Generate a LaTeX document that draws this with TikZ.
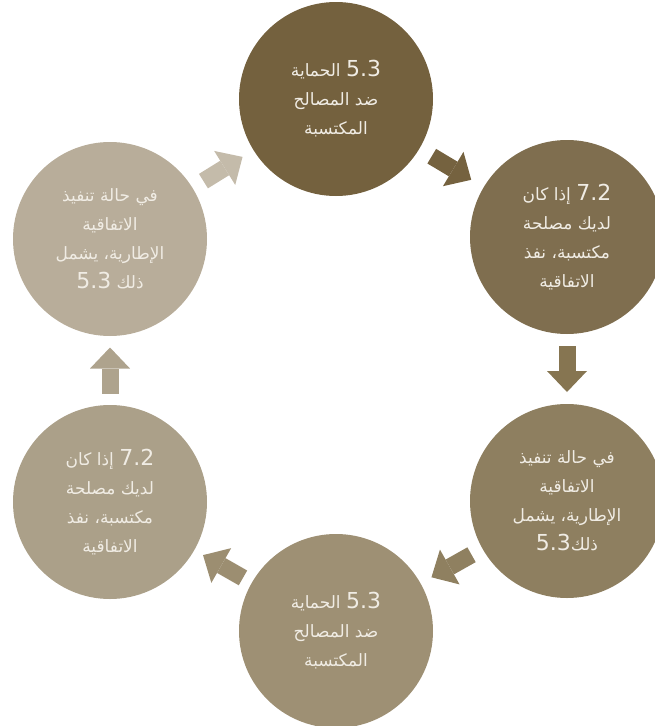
\documentclass[tikz,border=0pt]{standalone}
\usepackage{fontspec}
\TeXXeTstate=1
\newfontfamily\arabicfont[Script=Arabic]{DejaVu Sans}
\newfontfamily\numfont{DejaVu Sans}
\usetikzlibrary{calc,arrows.meta}
\definecolor{cA}{HTML}{74613E}
\definecolor{cB}{HTML}{7F6E4F}
\definecolor{cC}{HTML}{8E7F60}
\definecolor{cD}{HTML}{9E9074}
\definecolor{cE}{HTML}{ABA089}
\definecolor{cF}{HTML}{B8AD9A}
\definecolor{aA}{HTML}{75623F}
\definecolor{aB}{HTML}{867551}
\definecolor{aC}{HTML}{8F8060}
\definecolor{aD}{HTML}{9C8E71}
\definecolor{aE}{HTML}{AEA38D}
\definecolor{aF}{HTML}{C4BBAA}
\definecolor{txt}{HTML}{F0ECE4}
\newcommand\nm[1]{\beginL{\numfont\fontsize{22}{29}\selectfont #1}\endL{}}
\begin{document}
\begin{tikzpicture}[x=1pt,y=-1pt,
  circ/.style={circle, minimum size=194pt, inner sep=0pt, align=center,
    text=txt, font=\arabicfont\fontsize{17}{29}\selectfont},
  blockarr/.style={line width=17pt, draw=#1,
    -{Triangle[width=40pt,length=21pt,line width=0pt]}}]
\useasboundingbox (0,0) rectangle (654,726);
\node[circ, fill=cA] (c1) at (336,99) {\beginR\nm{5.3} الحماية\endR\\\beginR ضد المصالح\endR\\\beginR المكتسبة\endR};
\node[circ, fill=cB] (c2) at (567,237) {\beginR\nm{7.2} إذا كان\endR\\\beginR لديك مصلحة\endR\\\beginR مكتسبة، نفذ\endR\\\beginR الاتفاقية\endR};
\node[circ, fill=cC] (c3) at (567,501) {\beginR في حالة تنفيذ\endR\\\beginR الاتفاقية\endR\\\beginR الإطارية، يشمل\endR\\\beginR ذلك\nm{5.3}\endR};
\node[circ, fill=cD] (c4) at (336,631) {\beginR\nm{5.3} الحماية\endR\\\beginR ضد المصالح\endR\\\beginR المكتسبة\endR};
\node[circ, fill=cE] (c5) at (110,502) {\beginR\nm{7.2} إذا كان\endR\\\beginR لديك مصلحة\endR\\\beginR مكتسبة، نفذ\endR\\\beginR الاتفاقية\endR};
\node[circ, fill=cF] (c6) at (110,239) {\beginR في حالة تنفيذ\endR\\\beginR الاتفاقية\endR\\\beginR الإطارية، يشمل\endR\\\beginR ذلك \nm{5.3}\endR};
\foreach \a/\b/\c in {c1/c2/aA, c2/c3/aB, c3/c4/aC, c4/c5/aD, c5/c6/aE, c6/c1/aF}{
  \coordinate (m) at ($(\a.center)!0.5!(\b.center)$);
  \draw[blockarr=\c] ($(m)!-23pt!(\b.center)$) -- ($(m)!23pt!(\b.center)$);
}
\end{tikzpicture}
\end{document}
